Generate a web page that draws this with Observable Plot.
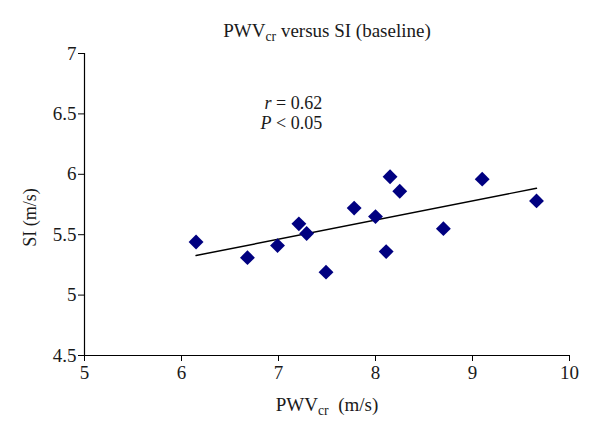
<!DOCTYPE html>
<html>
<head>
<meta charset="utf-8">
<script src="https://cdn.jsdelivr.net/npm/d3@7"></script>
<script src="https://cdn.jsdelivr.net/npm/@observablehq/plot@0.6"></script>
<style>
  html, body { margin: 0; padding: 0; background: #fff; }
  #chart { width: 600px; height: 435px; }
  #chart svg text { font-family: 'Liberation Serif', 'Times New Roman', serif; }
</style>
</head>
<body>
<div id="chart"></div>
<script>
// Data
const pwvCr = [6.15, 6.68, 6.99, 7.21, 7.29, 7.49, 7.78, 8.00, 8.11, 8.15, 8.25, 8.70, 9.10, 9.66];
const siVal = [5.44, 5.31, 5.41, 5.59, 5.51, 5.19, 5.72, 5.65, 5.36, 5.98, 5.86, 5.55, 5.96, 5.78];
const xTicks = [5, 6, 7, 8, 9, 10];
const yTicks = [4.5, 5, 5.5, 6, 6.5, 7];
const titleText = "PWV_cr versus SI (baseline)";
const xLabelText = "PWV_cr  (m/s)";
const yLabelText = "SI (m/s)";
const statLabels = ["r = 0.62", "P < 0.05"];

const data = pwvCr.map((x, i) => ({pwv: x, si: siVal[i]}));
const statY = [6.59, 6.425];

const FONT = "'Liberation Serif', 'Times New Roman', serif";
const fmt = d3.format("~g");

const plot = Plot.plot({
  width: 600,
  height: 435,
  marginLeft: 84,
  marginRight: 31,
  marginTop: 53,
  marginBottom: 80,
  style: {fontFamily: FONT, fontSize: "19px", color: "#1a1a1a", background: "#fff"},
  x: {domain: [5, 10]},
  y: {domain: [4.5, 7]},
  marks: [
    Plot.axisX({ticks: xTicks, tickFormat: fmt, tickSize: 6, tickPadding: 4, label: null, stroke: "#000", fontSize: 19, fontFamily: FONT}),
    Plot.axisY({ticks: yTicks, tickFormat: fmt, tickSize: 6, tickPadding: 2, label: null, stroke: "#000", fontSize: 19, fontFamily: FONT}),
    Plot.ruleX([5], {stroke: "#000", strokeWidth: 1.2}),
    Plot.ruleY([4.5], {stroke: "#000", strokeWidth: 1.2}),
    Plot.linearRegressionY(data, {x: "pwv", y: "si", ci: 0, stroke: "#000", strokeWidth: 1.4}),
    Plot.dot(data, {x: "pwv", y: "si", symbol: "diamond2", r: 6.7, fill: "#000080", stroke: "none"}),
    Plot.text(statLabels, {x: () => 7.45, y: (d, i) => statY[i], text: d => d, textAnchor: "end", lineAnchor: "middle", fontSize: 18, fontFamily: FONT}),
    Plot.text([titleText], {frameAnchor: "top", text: d => d, dy: -23, textAnchor: "middle", lineAnchor: "middle", fontSize: 19, fontFamily: FONT}),
    Plot.text([xLabelText], {frameAnchor: "bottom", text: d => d, dy: 49, textAnchor: "middle", lineAnchor: "middle", fontSize: 19, fontFamily: FONT}),
    Plot.text([yLabelText], {frameAnchor: "left", text: d => d, dx: -54, dy: 13, rotate: -90, textAnchor: "middle", lineAnchor: "middle", fontSize: 18, fontFamily: FONT})
  ]
});

// Rich text: subscripts and italics
d3.select(plot).selectAll("text").each(function() {
  const t = d3.select(this);
  const s = this.textContent;
  if (s.includes("_cr")) {
    const [a, b] = s.split("_cr");
    t.text(null);
    t.append("tspan").text(a);
    t.append("tspan").attr("dy", "0.3em").attr("font-size", "0.72em").text("cr");
    t.append("tspan").attr("dy", "-0.22em").text(b);
  } else if (statLabels.includes(s)) {
    t.text(null);
    t.append("tspan").attr("font-style", "italic").text(s[0]);
    t.append("tspan").text(s.slice(1));
  }
});

document.getElementById("chart").appendChild(plot);
</script>
</body>
</html>
